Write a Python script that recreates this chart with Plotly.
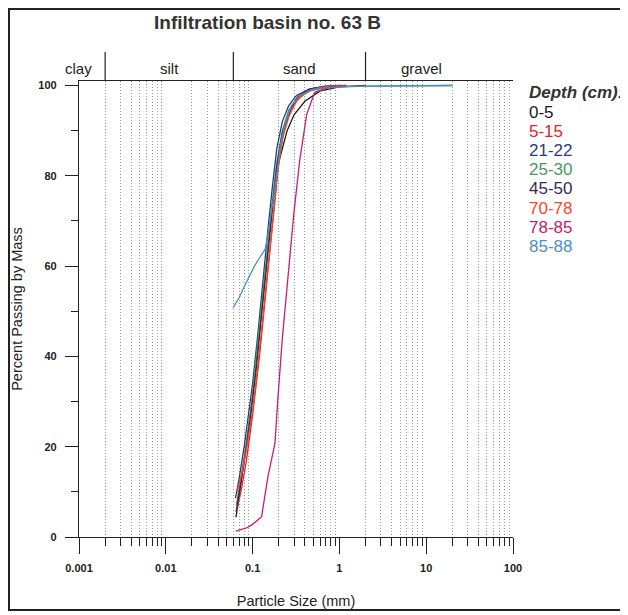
import plotly.graph_objects as go

# ---------------- data ----------------
depth_labels = ["0-5", "5-15", "21-22", "25-30", "45-50", "70-78", "78-85", "85-88"]
colors = ["#1a1a1a", "#e8202a", "#2b3a80", "#4a9a5a", "#3a2a50", "#f04a2a", "#c8206a", "#4a90c8"]

d_0_5 = [0.0644, 0.07, 0.08, 0.09, 0.1, 0.115, 0.13, 0.15, 0.17, 0.2, 0.25, 0.3, 0.4, 0.6, 1.0, 2.0]
p_0_5 = [4.4, 9, 17, 24, 31, 42, 52, 64, 74, 83, 90, 93.5, 96.5, 98.8, 99.7, 100]

d_5_15 = [0.066, 0.075, 0.085, 0.1, 0.12, 0.14, 0.16, 0.18, 0.2, 0.23, 0.28, 0.35, 0.5, 0.8, 1.2]
p_5_15 = [6, 11, 17, 27, 40, 53, 65, 75, 83, 90, 95, 97.5, 99.2, 99.8, 100]

d_21_22 = [0.0635, 0.07, 0.08, 0.09, 0.1, 0.115, 0.13, 0.15, 0.17, 0.19, 0.22, 0.26, 0.32, 0.45, 0.7, 1.1]
p_21_22 = [8.6, 13, 20, 27, 34, 45, 56, 68, 78, 86, 92, 95.5, 97.8, 99.2, 99.8, 100]

d_25_30 = [0.065, 0.072, 0.082, 0.095, 0.11, 0.125, 0.145, 0.165, 0.19, 0.22, 0.26, 0.32, 0.45, 0.7, 1.2, 3, 20]
p_25_30 = [7, 12, 19, 28, 39, 50, 62, 73, 83, 90, 94.5, 97, 98.8, 99.5, 99.8, 99.9, 100]

d_45_50 = [0.0645, 0.072, 0.082, 0.095, 0.11, 0.125, 0.145, 0.165, 0.19, 0.22, 0.27, 0.33, 0.45, 0.65, 1.0]
p_45_50 = [5.5, 11, 18, 27, 37, 48, 60, 72, 82, 89.5, 94.5, 97.5, 99.2, 99.8, 100]

d_70_78 = [0.066, 0.075, 0.086, 0.1, 0.115, 0.13, 0.15, 0.17, 0.195, 0.22, 0.26, 0.32, 0.42, 0.6, 1.0]
p_70_78 = [10, 14, 20, 28, 38, 48, 60, 71, 81, 88, 93, 96.5, 98.6, 99.6, 100]

d_78_85 = [0.064, 0.075, 0.085, 0.1, 0.127, 0.15, 0.181, 0.195, 0.22, 0.254, 0.3, 0.35, 0.38, 0.42, 0.52, 0.8, 1.2]
p_78_85 = [1.3, 1.6, 2.0, 2.8, 4.5, 13.3, 20.8, 30.4, 44, 57, 72, 83.6, 88, 93.6, 98.5, 99.7, 100]

d_85_88 = [0.0595, 0.07, 0.078, 0.09, 0.105, 0.12, 0.14, 0.15, 0.165, 0.18, 0.195, 0.21, 0.24, 0.28, 0.35, 0.5, 1, 3, 20]
p_85_88 = [50.8, 53, 55, 57.5, 60, 61.8, 63.8, 67, 72, 77, 82, 87, 92, 95.5, 97.8, 99.2, 99.7, 99.9, 100]

sizes = [d_0_5, d_5_15, d_21_22, d_25_30, d_45_50, d_70_78, d_78_85, d_85_88]
passing = [p_0_5, p_5_15, p_21_22, p_25_30, p_45_50, p_70_78, p_78_85, p_85_88]

x_major = [0.001, 0.01, 0.1, 1, 10, 100]
x_major_text = ["0.001", "0.01", "0.1", "1", "10", "100"]
x_minor = [m * 10 ** e for e in range(-3, 2) for m in range(2, 10)]
y_major = [0, 20, 40, 60, 80, 100]
y_minor = [10, 30, 50, 70, 90]

soil_bounds = [0.002, 0.06, 2]
soil_names = ["clay", "silt", "sand", "gravel"]
soil_label_px = [78, 169, 299, 421]   # label centres (screen pixels) in the band above the plot

FONT = "Liberation Sans, Arial, sans-serif"
OFF = 8                      # page body margin
W, H = 628 - OFF, 615 - OFF
L, T = 79 - OFF, 81 - OFF
R = W - (513 - OFF)
B = H - (537 - OFF)
PW, PH = W - L - R, H - T - B


def px_x(px):
    return (px - OFF - L) / PW


def px_y(py):
    return (H - B - (py - OFF)) / PH


fig = go.Figure()
for lab, col, xs, ys in zip(depth_labels, colors, sizes, passing):
    fig.add_trace(go.Scatter(x=xs, y=ys, mode="lines", name=lab,
                             line=dict(color=col, width=1.3), showlegend=False))

fig.update_layout(
    width=W, height=H,
    margin=dict(l=L, r=R, t=T, b=B, autoexpand=False),
    paper_bgcolor="white", plot_bgcolor="white",
    font=dict(family=FONT, color="#222"),
    showlegend=False,
)

fig.update_xaxes(
    type="log", range=[-3, 2], automargin=False,
    tickmode="array", tickvals=x_major, ticktext=x_major_text,
    ticks="outside", ticklen=16, tickwidth=1, tickcolor="#222",
    ticklabelstandoff=5,
    tickfont=dict(size=11, family=FONT, color="#222", weight="bold"),
    showgrid=False, zeroline=False,
    showline=True, linecolor="#222", linewidth=1.2, mirror=True,
    minor=dict(tickmode="array", tickvals=x_minor, ticks="outside", ticklen=8,
               tickcolor="#222", tickwidth=1,
               showgrid=True, gridcolor="#999999", griddash="1px,2px", gridwidth=1),
    title=dict(text="Particle Size (mm)", font=dict(size=14.5, family=FONT, color="#222"), standoff=22),
)
fig.update_yaxes(
    range=[0, 101], automargin=False,
    tickmode="array", tickvals=y_major,
    ticks="outside", ticklen=13, tickwidth=1, tickcolor="#222",
    ticklabelstandoff=6,
    tickfont=dict(size=11, family=FONT, color="#222", weight="bold"),
    showgrid=False, zeroline=False,
    showline=True, linecolor="#222", linewidth=1.2,
    minor=dict(tickmode="array", tickvals=y_minor, ticks="outside", ticklen=7,
               tickcolor="#222", tickwidth=1, showgrid=False),
    title=dict(text="Percent Passing by Mass", font=dict(size=14.5, family=FONT, color="#222"), standoff=12),
)

shapes = []
# soil-class separators in the band above the plot (data values on log axis)
for b in soil_bounds:
    shapes.append(dict(type="line", xref="x", yref="paper",
                       x0=b, x1=b, y0=1.0, y1=px_y(52),
                       line=dict(color="#222", width=1.2)))
# outer frame
shapes.append(dict(type="rect", xref="paper", yref="paper",
                   x0=px_x(9), x1=px_x(660), y0=px_y(610), y1=px_y(9),
                   line=dict(color="#222", width=2)))
fig.update_layout(shapes=shapes)

ann = []
for name, pxc in zip(soil_names, soil_label_px):
    ann.append(dict(x=px_x(pxc), y=px_y(68), xref="paper", yref="paper", text=name,
                    showarrow=False, font=dict(size=15, family=FONT, color="#222"),
                    xanchor="center", yanchor="middle"))
ann.append(dict(x=px_x(267), y=px_y(22), xref="paper", yref="paper",
                text="<b>Infiltration basin no. 63 B</b>", showarrow=False,
                font=dict(size=19, family=FONT, color="#333"),
                xanchor="center", yanchor="middle"))
# legend as coloured text
ann.append(dict(x=px_x(527), y=px_y(92), xref="paper", yref="paper",
                text="<b><i>Depth (cm):</i></b>", showarrow=False,
                font=dict(size=17, family=FONT, color="#333"),
                xanchor="left", yanchor="middle"))
for i, (lab, col) in enumerate(zip(depth_labels, colors)):
    ypx = 112 + i * 19.2
    ann.append(dict(x=px_x(527), y=px_y(ypx), xref="paper", yref="paper",
                    text=lab, showarrow=False,
                    font=dict(size=17, family=FONT, color=col),
                    xanchor="left", yanchor="middle"))
fig.update_layout(annotations=ann)

fig.write_html("out.html")
